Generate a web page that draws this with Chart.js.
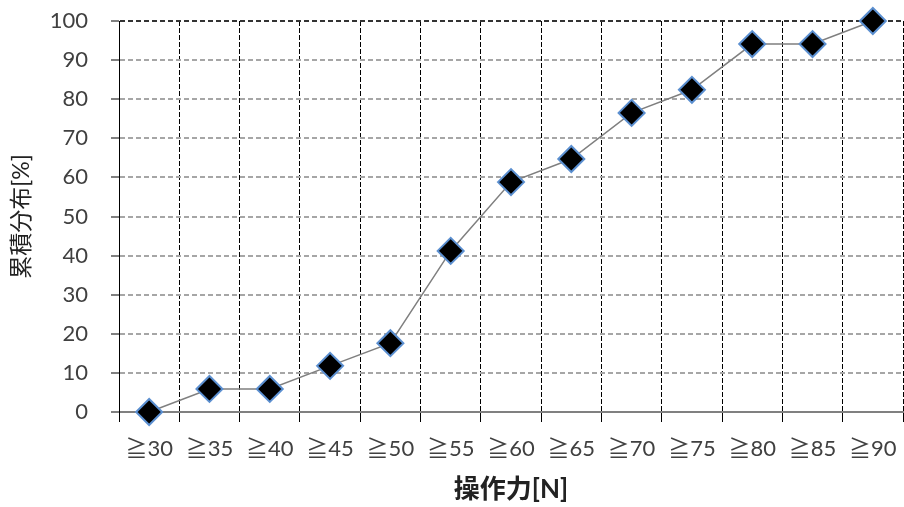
<!DOCTYPE html>
<html lang="ja">
<head>
  <meta charset="UTF-8">
  <title>累積分布</title>
  <style>
    body {
      margin: 0;
      padding: 0;
      background-color: #fff;
    }
    #wrap {
      width: 904px;
      height: 507px;
    }
  </style>
  <script src="https://cdn.jsdelivr.net/npm/chart.js"></script>
</head>
<body>
  <div id="wrap"><canvas id="grafico"></canvas></div>

  <script>
    // categorias e valores (累積分布 %)
    const categorias = ['≧30', '≧35', '≧40', '≧45', '≧50', '≧55', '≧60', '≧65', '≧70', '≧75', '≧80', '≧85', '≧90'];
    const valores = [0, 5.9, 5.9, 11.8, 17.6, 41.2, 58.8, 64.7, 76.5, 82.4, 94.1, 94.1, 100];
    const yMin = 0;
    const yMax = 100;
    const yPasso = 10;

    const fonte = "Lato, 'Noto Sans CJK JP', sans-serif";

    // força a área do gráfico: esquerda 119, direita 903, topo 21, base 412
    const fixarArea = {
      id: 'fixarArea',
      afterLayout(chart) {
        const a = chart.chartArea;
        const x = chart.scales.x, y = chart.scales.y;
        a.left = 119; a.right = 903; a.top = 21; a.bottom = 412;
        a.width = a.right - a.left; a.height = a.bottom - a.top;
        x.left = a.left; x.right = a.right; x.width = a.width;
        x.top = a.bottom; x.bottom = 507; x.height = x.bottom - x.top;
        y.top = a.top; y.bottom = a.bottom; y.height = a.height;
        y.left = 0; y.right = a.left; y.width = a.left;
        x.configure(); y.configure();
      }
    };

    new Chart(document.getElementById('grafico'), {
      type: 'line',
      data: {
        labels: categorias,
        datasets: [{
          data: valores,
          borderColor: '#7f7f7f',
          borderWidth: 1.5,
          pointStyle: 'rectRot',
          pointRadius: 13,
          pointHoverRadius: 13,
          pointBackgroundColor: '#000',
          pointBorderColor: '#5b8fd0',
          pointBorderWidth: 2,
          tension: 0,
          clip: false
        }]
      },
      plugins: [fixarArea],
      options: {
        responsive: true,
        maintainAspectRatio: false,
        animation: false,
        plugins: {
          legend: { display: false },
          tooltip: { enabled: false }
        },
        scales: {
          x: {
            offset: true,
            grid: {
              offset: true,
              color: '#000',
              lineWidth: 1,
              tickLength: 10,
              tickColor: '#000'
            },
            border: {
              color: '#808080',
              width: 2,
              dash: [5, 2]
            },
            ticks: {
              color: '#404040',
              padding: 14,
              maxRotation: 0,
              autoSkip: false,
              font: { family: fonte, size: 22 }
            },
            title: {
              display: true,
              text: '操作力[N]',
              color: '#222',
              padding: { top: 0, bottom: 2 },
              font: { family: fonte, size: 26, weight: 'bold' }
            }
          },
          y: {
            min: yMin,
            max: yMax,
            grid: {
              color: c => c.tick && c.tick.value === 100 ? '#333' : (c.tick && c.tick.value === 0 ? 'rgba(0,0,0,0)' : '#a6a6a6'),
              lineWidth: 2,
              tickLength: 8,
              tickColor: '#808080'
            },
            border: {
              color: '#000',
              width: 1,
              dash: [5, 3]
            },
            ticks: {
              stepSize: yPasso,
              color: '#404040',
              padding: 23,
              font: { family: fonte, size: 22 }
            },
            title: {
              display: true,
              text: '累積分布[%]',
              color: '#222',
              padding: { top: 8, bottom: 0 },
              font: { family: fonte, size: 23 }
            }
          }
        }
      }
    });
  </script>
</body>
</html>
